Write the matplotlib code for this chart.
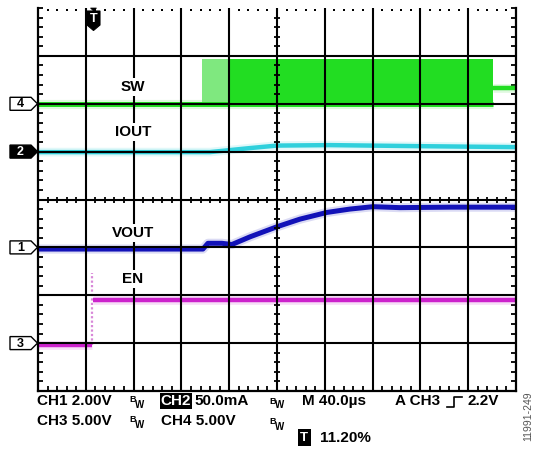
import numpy as np
import matplotlib
matplotlib.use("Agg")
import matplotlib.pyplot as plt
from matplotlib.patches import Polygon, Rectangle

plt.rcParams['font.family'] = ['Liberation Sans', 'DejaVu Sans']

# ---------------- scope settings ----------------
TIME_PER_DIV = 40.0          # us/div
T_START = -44.8              # us at left edge (trigger at 11.20 %)
CH_SCALE = {1: 2.0, 2: 50.0, 3: 5.0, 4: 5.0}   # V/div, mA/div
CH_POS = {1: 3.0, 2: 5.0, 3: 1.0, 4: 6.0}      # ground position (div from bottom)

# ---------------- data ----------------
# CH1 VOUT (V)
vout_t = [-44.8, 93.2, 97.4, 109.1, 117.5, 132.6, 155.1, 174.4, 197.0, 216.2, 235.5, 258.0, 300.0, 355.2]
vout_v = [-0.07, -0.07, 0.17, 0.17, 0.12, 0.44, 0.86, 1.18, 1.46, 1.60, 1.70, 1.66, 1.68, 1.68]

# CH2 IOUT (mA)
iout_t = [-44.8, 99.0, 115.8, 132.6, 155.0, 199.5, 274.8, 355.2]
iout_i = [-0.5, -0.5, 1.6, 3.7, 6.3, 6.8, 5.7, 4.7]

# CH3 EN (V)
en_low_t = [-44.8, 0.0]
en_low_v = [-0.2, -0.2]
en_high_t = [1.0, 355.2]
en_high_v = [4.5, 4.5]
en_spike_v = [-0.2, 7.3]

# CH4 SW (V)
sw_base_t = [-44.8, 336.0]
sw_base_v = [0.0, 0.0]
sw_burst_start = 92.4
sw_burst_dense = 114.0
sw_burst_end = 336.0
sw_high = 4.7
sw_after_t = [336.0, 355.2]
sw_after_v = [1.63, 1.63]


def tx(t):
    return (np.asarray(t, dtype=float) - T_START) / TIME_PER_DIV


def vy(v, ch):
    return CH_POS[ch] + np.asarray(v, dtype=float) / CH_SCALE[ch]


W, H = 537, 450
fig = plt.figure(figsize=(W / 100, H / 100), dpi=100)
fig.patch.set_facecolor('white')

L, R, T, B = 38, 516, 8, 391
ax = fig.add_axes([L / W, 1 - B / H, (R - L) / W, (B - T) / H])
ax.set_xlim(0, 10)
ax.set_ylim(0, 8)
ax.set_facecolor('white')

GREEN = '#22dd22'
CYAN = '#2fd0dc'
BLUE = '#1212b8'
MAGENTA = '#cc22cc'


def trace(x, y, color, lw=3.2):
    ax.plot(x, y, color=color, lw=lw + 3, alpha=0.15, solid_capstyle='butt', zorder=2)
    ax.plot(x, y, color=color, lw=lw, solid_capstyle='butt', zorder=3)


# EN
trace(tx(en_low_t), vy(en_low_v, 3), MAGENTA)
trace(tx(en_high_t), vy(en_high_v, 3), MAGENTA)
ax.plot(tx([0.3, 0.3]), vy(en_spike_v, 3), color='#d888d8', lw=1.6, ls=(0, (1, 1)), zorder=2)

# VOUT
trace(tx(vout_t), vy(vout_v, 1), BLUE, lw=3.6)

# IOUT
trace(tx(iout_t), vy(iout_i, 2), CYAN, lw=3.2)

# SW
trace(tx(sw_base_t), vy(sw_base_v, 4), GREEN, lw=3.6)
ax.fill_between(tx([sw_burst_start, sw_burst_dense]), vy(0, 4), vy(sw_high, 4),
                color='#7fe87f', lw=0, zorder=2.5)
ax.fill_between(tx([sw_burst_dense, sw_burst_end]), vy(0, 4), vy(sw_high, 4),
                color=GREEN, lw=0, zorder=2.5)
trace(tx(sw_after_t), vy(sw_after_v, 4), GREEN, lw=3.2)

# grid (drawn above traces, like the scope)
for i in range(1, 10):
    ax.axvline(i, color='black', lw=1.5, zorder=5)
for j in range(1, 8):
    ax.axhline(j, color='black', lw=1.5, zorder=5)

# spines and minor ticks
for s in ['left', 'right', 'bottom']:
    ax.spines[s].set_linewidth(1.6)
    ax.spines[s].set_zorder(6)
ax.spines['top'].set_visible(False)
ax.set_xticks([])
ax.set_yticks([])
ax.set_xticks(np.arange(0, 10.001, 0.2), minor=True)
ax.set_yticks(np.arange(0, 8.001, 0.2), minor=True)
ax.tick_params(which='minor', direction='in', length=3.6, width=1.3,
               top=False, bottom=True, left=True, right=True,
               labelbottom=False, labelleft=False)

# top edge: dotted row
xs_top = np.arange(0.2, 10, 0.2)
ax.plot(xs_top, np.full_like(xs_top, 8 - 2.0 / 47.9), ls='none', marker='s', ms=1.8,
        color='black', mew=0, clip_on=False, zorder=6)

# center-line ticks
xs = np.arange(0.2, 10, 0.2)
ys = np.arange(0.2, 8, 0.2)
ax.plot(xs, np.full_like(xs, 4.0), ls='none', marker='|', ms=4.5, mew=1.3, color='black', zorder=6)
ax.plot(np.full_like(ys, 5.0), ys, ls='none', marker='_', ms=4.5, mew=1.3, color='black', zorder=6)


def px(x, y):
    return (x / W, 1 - y / H)


# trace labels (white boxes interrupt grid)
for label, (x, y) in {'SW': (133, 87), 'IOUT': (133, 132), 'VOUT': (133, 233), 'EN': (133, 279)}.items():
    ax.text(*ax.transAxes.inverted().transform(fig.transFigure.transform(px(x, y))), label,
            transform=ax.transAxes, ha='center', va='center', fontsize=11, fontweight='bold',
            zorder=7, bbox=dict(boxstyle='square,pad=0.15', fc='white', ec='none'))

# overlay in pixel coordinates
ov = fig.add_axes([0, 0, 1, 1], zorder=10)
ov.set_xlim(0, W)
ov.set_ylim(H, 0)
ov.axis('off')
ov.patch.set_alpha(0)


def ch_marker(num, yc, inverted=False):
    pts = [(10, yc - 6.5), (31, yc - 6.5), (37.5, yc), (31, yc + 6.5), (10, yc + 6.5)]
    fc = 'black' if inverted else 'white'
    tc = 'white' if inverted else 'black'
    ov.add_patch(Polygon(pts, closed=True, fc=fc, ec='black', lw=1.0))
    ov.text(20.5, yc + 0.5, str(num), ha='center', va='center', fontsize=9,
            fontweight='bold', color=tc)


ch_marker(4, 103.8)
ch_marker(2, 151.6, inverted=True)
ch_marker(1, 247.4)
ch_marker(3, 343.1)

# trigger marker
ov.add_patch(Polygon([(87, 11), (100, 11), (100, 25), (93.5, 30.5), (87, 25)], closed=True,
                     fc='black', ec='black', lw=0.8))
ov.add_patch(Polygon([(90.5, 8), (96.5, 8), (93.5, 11)], closed=True, fc='black', ec='black', lw=0.5))
ov.text(93.5, 19.5, 'T', ha='center', va='center', fontsize=9, fontweight='bold', color='white')

# bottom readout
fs = 11
ov.text(37, 401, 'CH1 2.00V', ha='left', va='center', fontsize=fs, fontweight='bold')
ov.text(37, 421, 'CH3 5.00V', ha='left', va='center', fontsize=fs, fontweight='bold')


def bw(x, y):
    ov.text(x, y, 'B', ha='left', va='center', fontsize=6.5, fontweight='bold')
    ov.text(x + 5.5, y + 4.5, 'W', ha='left', va='center', fontsize=7, fontweight='bold')


bw(129, 400)
bw(129, 420)
bw(269, 401)
bw(269, 422)

ov.add_patch(Rectangle((160, 392.5), 32, 16, fc='black', ec='none'))
ov.text(176, 401, 'CH2', ha='center', va='center', fontsize=fs, fontweight='bold', color='white')
ov.text(194, 401, '50.0mA', ha='left', va='center', fontsize=fs, fontweight='bold')
ov.text(161, 421, 'CH4 5.00V', ha='left', va='center', fontsize=fs, fontweight='bold')
ov.text(302, 401, 'M 40.0\u00b5s', ha='left', va='center', fontsize=fs, fontweight='bold')
ov.text(395, 401, 'A CH3', ha='left', va='center', fontsize=fs, fontweight='bold')
ov.plot([447, 454, 454, 462], [407, 407, 396.5, 396.5], color='black', lw=1.2)
ov.text(468, 401, '2.2V', ha='left', va='center', fontsize=fs, fontweight='bold')

ov.add_patch(Rectangle((298, 429), 12.5, 17, fc='black', ec='none'))
ov.text(304.3, 438, 'T', ha='center', va='center', fontsize=9.5, fontweight='bold', color='white')
ov.text(320, 438.5, '11.20%', ha='left', va='center', fontsize=fs, fontweight='bold')

ov.text(528, 416, '11991-249', ha='center', va='center', rotation=90, fontsize=7.5, color='#555555')

fig.savefig('out.png', dpi=100, facecolor='white')
